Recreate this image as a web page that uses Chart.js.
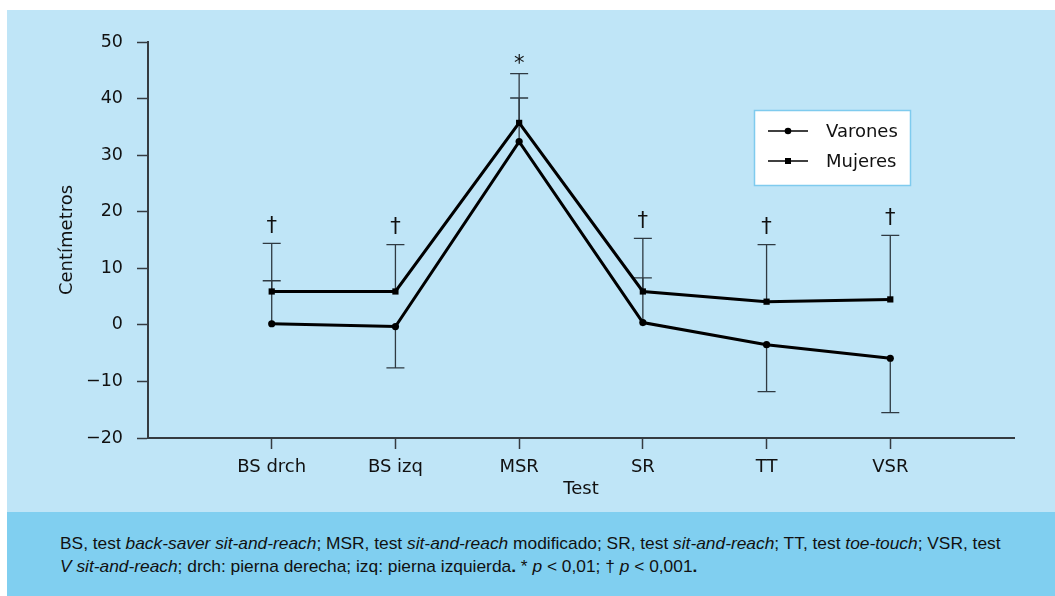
<!DOCTYPE html>
<html>
<head>
<meta charset="utf-8">
<script src="https://cdn.jsdelivr.net/npm/chart.js@4"></script>
<style>
  html, body { margin: 0; padding: 0; background: #fff; }
  body { width: 1055px; height: 596px; position: relative; overflow: hidden; }
  #panel { position: absolute; left: 7px; top: 10px; width: 1048px; height: 502px; background: #bfe5f7; }
  #caption {
    position: absolute; left: 7px; top: 512px; width: 1048px; height: 84px; background: #80cff0;
    box-sizing: border-box; padding: 20px 0 0 53px;
    font-family: "Liberation Sans", sans-serif; font-size: 17.35px; line-height: 23px; color: #111;
  }
</style>
</head>
<body>
<div id="panel"><canvas id="chart"></canvas></div>
<div id="caption">
  BS, test <i>back-saver sit-and-reach</i>; MSR, test <i>sit-and-reach</i> modificado; SR, test <i>sit-and-reach</i>; TT, test <i>toe-touch</i>; VSR, test<br>
  <i>V sit-and-reach</i>; drch: pierna derecha; izq: pierna izquierda<b>.</b> * <i>p</i> &lt; 0,01; † <i>p</i> &lt; 0,001<b>.</b>
</div>
<script>
// ── Data ─────────────────────────────────────────────────────────────────────
const categories = ["BS drch", "BS izq", "MSR", "SR", "TT", "VSR"];
const varones = [0.2, -0.3, 32.4, 0.4, -3.5, -5.9];
const mujeres = [5.9, 5.9, 35.7, 5.9, 4.1, 4.5];
// error bar end points (drawn from the mean to this value)
const varonesErrEnd = [7.8, -7.6, 40.1, 8.3, -11.8, -15.5];
const mujeresErrEnd = [14.4, 14.2, 44.4, 15.3, 14.2, 15.8];
const signif = ["†", "†", "*", "†", "†", "†"];
const yTicks = [50, 40, 30, 20, 10, 0, -10, -20];

const AXIS = "#353b40";
const FONT = "DejaVu Sans";

const toPoints = arr => arr.map((v, i) => ({ x: i + 1, y: v }));

// ── Error bars + significance marks ─────────────────────────────────────────
const errorBars = {
  id: "errorBars",
  beforeDatasetsDraw(chart) {
    const { ctx, scales: { x, y } } = chart;
    ctx.save();
    ctx.strokeStyle = "#2f3a42";
    ctx.lineWidth = 1.3;
    [[varones, varonesErrEnd], [mujeres, mujeresErrEnd]].forEach(([means, ends]) => {
      means.forEach((m, i) => {
        const px = x.getPixelForValue(i + 1);
        const y0 = y.getPixelForValue(m), y1 = y.getPixelForValue(ends[i]);
        ctx.beginPath();
        ctx.moveTo(px, y0); ctx.lineTo(px, y1);
        ctx.moveTo(px - 9, y1); ctx.lineTo(px + 9, y1);
        ctx.stroke();
      });
    });
    // marks above the highest cap
    ctx.fillStyle = "#111";
    ctx.textAlign = "center";
    ctx.textBaseline = "middle";
    signif.forEach((s, i) => {
      const top = Math.max(varonesErrEnd[i], mujeresErrEnd[i]);
      const px = x.getPixelForValue(i + 1);
      const py = y.getPixelForValue(top);
      ctx.font = `21px ${FONT}`;
      ctx.fillText(s, px, s === "*" ? py - 9 : py - 17);
    });
    ctx.restore();
  },
};

// ── Boxed legend with line + marker ─────────────────────────────────────────
const boxLegend = {
  id: "boxLegend",
  afterDraw(chart) {
    const ctx = chart.ctx;
    const bx = 747, by = 100, bw = 157, bh = 76;
    ctx.save();
    ctx.fillStyle = "#fff";
    ctx.fillRect(bx, by, bw, bh);
    ctx.strokeStyle = "#7fcbee";
    ctx.lineWidth = 1.5;
    ctx.strokeRect(bx + 0.5, by + 0.5, bw - 1, bh - 1);
    chart.data.datasets.forEach((ds, i) => {
      const ly = by + 21 + i * 30;
      ctx.strokeStyle = "#000";
      ctx.lineWidth = 1.6;
      ctx.beginPath();
      ctx.moveTo(bx + 14, ly); ctx.lineTo(bx + 54, ly);
      ctx.stroke();
      ctx.fillStyle = "#000";
      if (ds.pointStyle === "rect") {
        ctx.fillRect(bx + 31, ly - 3, 6, 6);
      } else {
        ctx.beginPath(); ctx.arc(bx + 34, ly, 3.3, 0, Math.PI * 2); ctx.fill();
      }
      ctx.fillStyle = "#111";
      ctx.font = `18px ${FONT}`;
      ctx.textAlign = "left";
      ctx.textBaseline = "middle";
      ctx.fillText(ds.label, bx + 72, ly + 1);
    });
    ctx.restore();
  },
};

new Chart(document.getElementById("chart"), {
  type: "line",
  data: {
    datasets: [
      { label: "Varones", data: toPoints(varones), borderColor: "#000", backgroundColor: "#000",
        borderWidth: 3, pointStyle: "circle", pointRadius: 3.6, pointBorderWidth: 0, pointHoverRadius: 3.6 },
      { label: "Mujeres", data: toPoints(mujeres), borderColor: "#000", backgroundColor: "#000",
        borderWidth: 3, pointStyle: "rect", pointRadius: 4.4, pointBorderWidth: 0, pointHoverRadius: 4.4 },
    ],
  },
  options: {
    responsive: true,
    maintainAspectRatio: false,
    animation: false,
    layout: { padding: { top: 32, right: 41, left: 0, bottom: 0 } },
    plugins: { legend: { display: false }, tooltip: { enabled: false } },
    scales: {
      x: {
        type: "linear", min: 0, max: 7,
        afterBuildTicks: s => { s.ticks = categories.map((_, i) => ({ value: i + 1 })); },
        afterFit: s => { s.height = 74; },
        ticks: { callback: v => categories[v - 1], color: "#111", font: { family: FONT, size: 18 }, padding: 8, maxRotation: 0, autoSkip: false },
        grid: { drawOnChartArea: false, drawTicks: true, tickLength: 11, color: AXIS, tickWidth: 1.5 },
        border: { color: AXIS, width: 2 },
        title: { display: true, text: "Test", color: "#111", font: { family: FONT, size: 18 }, padding: { bottom: 12 } },
      },
      y: {
        min: -20, max: 50,
        afterBuildTicks: s => { s.ticks = yTicks.map(v => ({ value: v })); },
        afterFit: s => { s.width = 141; },
        ticks: { callback: v => (v < 0 ? "\u2212" + Math.abs(v) : v), color: "#111", font: { family: FONT, size: 17.5 }, padding: 14 },
        grid: { drawOnChartArea: false, drawTicks: true, tickLength: 11, color: AXIS, tickWidth: 1.5 },
        border: { color: AXIS, width: 2 },
        title: { display: true, text: "Centímetros", color: "#111", font: { family: FONT, size: 18 }, padding: { top: 50 } },
      },
    },
  },
  plugins: [errorBars, boxLegend],
});
</script>
</body>
</html>
